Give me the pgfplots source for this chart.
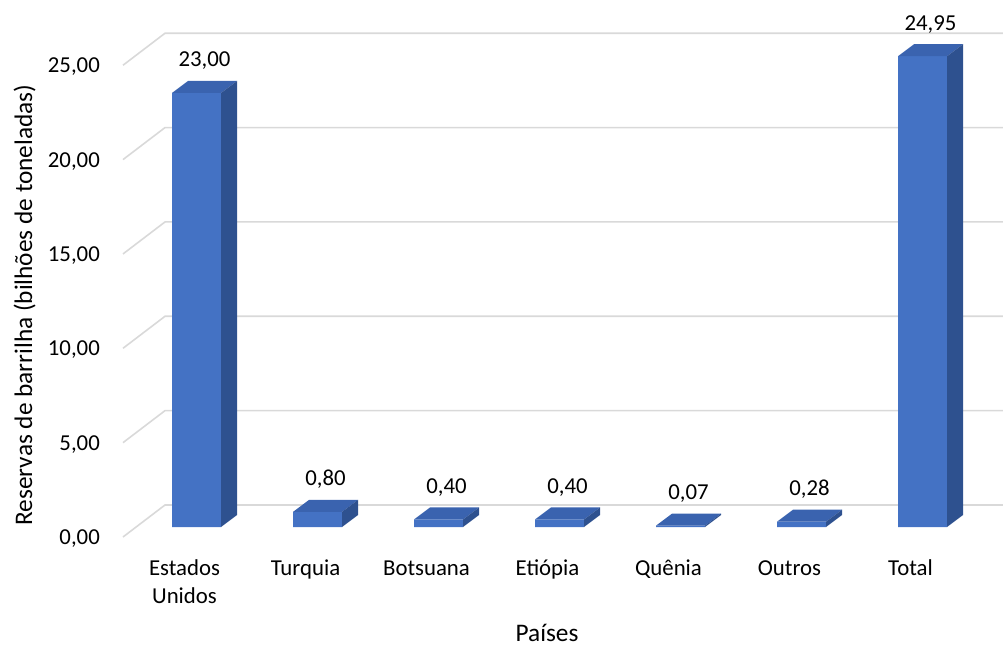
\documentclass[border=0pt]{standalone}
\usepackage{fontspec}
\setmainfont{Carlito}
\usepackage{pgfplots}
\pgfplotsset{compat=1.18}
\usepackage{pgfplotstable}

\definecolor{barfront}{HTML}{4472C4}
\definecolor{bartop}{HTML}{3A63AF}
\definecolor{barside}{HTML}{2E518F}
\definecolor{gridgray}{HTML}{D9D9D9}

% reserves in billions of tonnes, one row per category
\pgfplotstableread{
x v
0 23.00
1 0.80
2 0.40
3 0.40
4 0.07
5 0.28
6 24.95
}\reservas

% top and right faces of a column, drawn from the centre of its front top edge;
% \barv holds the column's value (18.87pt per unit on the y axis)
\pgfdeclareplotmark{colcap}{%
  \pgfsetfillcolor{bartop}%
  \pgfpathmoveto{\pgfpoint{-24.5pt}{0pt}}%
  \pgfpathlineto{\pgfpoint{24.5pt}{0pt}}%
  \pgfpathlineto{\pgfpoint{40.5pt}{12pt}}%
  \pgfpathlineto{\pgfpoint{-8.5pt}{12pt}}%
  \pgfpathclose
  \pgfusepath{fill}%
  \pgfmathsetlengthmacro\barh{\barv*18.87pt}%
  \pgfsetfillcolor{barside}%
  \pgfpathmoveto{\pgfpoint{24.5pt}{0pt}}%
  \pgfpathlineto{\pgfpoint{40.5pt}{12pt}}%
  \pgfpathlineto{\pgfpoint{40.5pt}{12pt-\barh}}%
  \pgfpathlineto{\pgfpoint{24.5pt}{-\barh}}%
  \pgfpathclose
  \pgfusepath{fill}%
}

\newcommand\titlefont{\fontsize{25.3}{30}\selectfont}

\begin{document}
\fontsize{22.8}{28}\selectfont
\begin{tikzpicture}
\path[use as bounding box] (0,0) rectangle (1003pt,648pt);
\begin{axis}[
  at={(136pt,121pt)}, anchor=south west,
  scale only axis, width=847pt, height=471.75pt,
  xmin=-0.5, xmax=6.5, ymin=0, ymax=25,
  clip=false,
  axis line style={draw=none},
  major tick length=0pt,
  xtick={0,...,6},
  xticklabels={{Estados\\Unidos}, Turquia, Botsuana, Etiópia, Quênia, Outros, Total},
  typeset ticklabels with strut,
  xticklabel style={align=center, anchor=north, inner sep=0pt, xshift=-12pt, yshift=-28.4pt},
  ytick={0,5,...,25},
  scaled y ticks=false,
  yticklabel style={anchor=base east, inner sep=0pt, xshift=-36pt, yshift=-17.5pt,
    /pgf/number format/.cd, fixed, fixed zerofill, precision=2, use comma},
  /pgf/number format/assume math mode=true,
]
% floor edges and back-wall grid lines
\pgfplotsinvokeforeach{0,5,10,15,20,25}{
  \draw[gridgray, line width=1.6pt]
    ([shift={(-13pt,-10pt)}]axis cs:-0.5,#1) --
    ([shift={(29pt,22pt)}]axis cs:-0.5,#1) --
    ([shift={(29pt,22pt)}]axis cs:6.5,#1);
}
% front faces with value labels
\addplot[ybar, bar shift=0pt, bar width=49pt, fill=barfront, draw=none,
  nodes near coords,
  nodes near coords style={anchor=base, inner sep=0pt, xshift=8pt, yshift=26pt,
    /pgf/number format/.cd, fixed, fixed zerofill, precision=2, use comma,
    assume math mode=true}]
  table[x=x, y=v]{\reservas};
% top and side faces
\addplot[only marks, mark=colcap,
  visualization depends on={rawy \as \barv}]
  table[x=x, y=v]{\reservas};
\end{axis}
\node[rotate=90, anchor=base, inner sep=0pt, font=\titlefont] at (32pt,343pt)
  {Reservas de barrilha (bilhões de toneladas)};
\node[anchor=base, inner sep=0pt, font=\titlefont] at (547pt,7pt) {Países};
\end{tikzpicture}
\end{document}
